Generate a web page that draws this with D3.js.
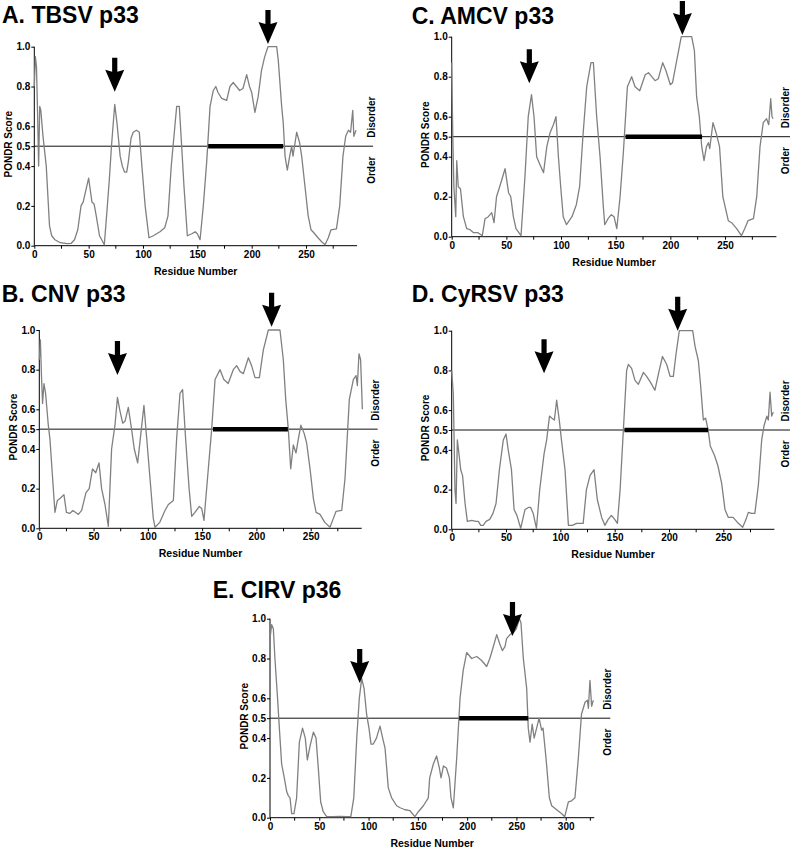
<!DOCTYPE html>
<html>
<head>
<meta charset="utf-8">
<script src="https://cdn.jsdelivr.net/npm/d3@7"></script>
<style>
  html, body { margin: 0; padding: 0; background: #fff; }
  svg { display: block; }
  text { font-family: "Liberation Sans", Arial, Helvetica, sans-serif; font-weight: bold; fill: #000; }
</style>
</head>
<body>
<svg id="chart" width="792" height="848"></svg>
<script>
// ---------------- DATA (residue, PONDR score) ----------------
const tbsv = [[0,0.8],[1,0.95],[2,0.9],[3,0.67],[4,0.4],[5,0.7],[6,0.68],[8,0.55],[11,0.4],[14,0.1],[16,0.05],[19,0.03],[24,0.015],[30,0.01],[34,0.012],[37,0.03],[40,0.08],[43,0.2],[45,0.22],[47.5,0.28],[50,0.34],[51,0.3],[53,0.22],[55,0.21],[57,0.15],[60,0.05],[62,0.03],[64.4,0.005],[66.5,0.15],[69,0.33],[71,0.5],[74,0.71],[76,0.62],[79,0.45],[81,0.4],[83,0.37],[85,0.37],[86.5,0.42],[89,0.54],[91,0.57],[94,0.58],[96.6,0.57],[99,0.4],[102,0.2],[105.5,0.04],[109.5,0.05],[115.6,0.07],[120,0.09],[123,0.15],[126,0.4],[128.5,0.55],[131,0.7],[133.4,0.7],[135.6,0.5],[137.7,0.3],[140.8,0.05],[145,0.06],[148,0.07],[150,0.06],[152.5,0.03],[155.5,0.2],[158.6,0.42],[161.7,0.7],[164.7,0.78],[167,0.8],[169,0.77],[172.4,0.74],[177,0.73],[180,0.8],[183,0.82],[186,0.8],[189,0.78],[192,0.79],[195.4,0.86],[198,0.8],[200,0.77],[203,0.67],[206,0.75],[209,0.88],[212,0.95],[215,1.0],[223,1.0],[224.5,0.93],[227.6,0.7],[229,0.62],[230.7,0.45],[232.8,0.38],[235,0.45],[236.8,0.5],[238,0.45],[240,0.52],[241.4,0.57],[244,0.52],[246,0.45],[249,0.3],[252,0.15],[254.6,0.08],[258,0.06],[261,0.04],[264.4,0.02],[267.5,0.005],[270.5,0.04],[273,0.08],[278,0.085],[281,0.2],[284,0.45],[286.5,0.55],[289,0.58],[291,0.57],[293,0.68],[294,0.55],[296,0.58]];

const cnv = [[0,0.85],[1,0.95],[2,0.77],[3,0.63],[4.3,0.73],[5.8,0.68],[8.3,0.52],[9.8,0.45],[12.3,0.25],[14.4,0.08],[16.6,0.14],[19,0.15],[22.7,0.17],[25,0.08],[28,0.075],[31,0.09],[36,0.07],[39,0.09],[43,0.18],[46,0.2],[49,0.3],[52,0.28],[55,0.33],[57.4,0.2],[60.5,0.12],[63.6,0.01],[66.6,0.4],[69.7,0.52],[72,0.66],[74,0.6],[76.8,0.53],[79,0.54],[82,0.61],[85,0.5],[87.5,0.4],[90.6,0.33],[93,0.45],[96.4,0.62],[99,0.45],[102,0.25],[105,0.05],[106.6,0.005],[111,0.03],[115.8,0.09],[118.9,0.12],[123.5,0.14],[126.5,0.45],[129.6,0.68],[132,0.7],[134.8,0.45],[138,0.2],[140.4,0.06],[143.4,0.08],[147.4,0.11],[149.6,0.1],[151.7,0.04],[155.7,0.3],[158.8,0.5],[161.9,0.75],[166.5,0.8],[170,0.75],[174,0.73],[178.7,0.8],[181.8,0.82],[185,0.79],[188,0.78],[192.6,0.86],[195.6,0.82],[198.7,0.76],[202.7,0.76],[206.4,0.9],[211,1.0],[221.7,1.0],[224.8,0.85],[227,0.65],[229.4,0.5],[231.6,0.3],[234,0.42],[236.5,0.38],[238.6,0.45],[241,0.52],[243.9,0.48],[246.3,0.43],[249.4,0.3],[252.5,0.15],[255,0.08],[258.6,0.07],[263,0.03],[267.8,0.005],[270.9,0.05],[273.3,0.085],[278.6,0.09],[281.6,0.25],[285.6,0.65],[289.3,0.75],[291.8,0.77],[293,0.72],[294.5,0.88],[296,0.85],[297.6,0.6]];

const amcv = [[0,0.87],[1,0.5],[2,0.25],[3.7,0.1],[4.6,0.38],[6,0.25],[8,0.24],[10.7,0.1],[13.7,0.04],[16.8,0.035],[20,0.02],[24,0.02],[28,0.005],[30.5,0.09],[33.5,0.1],[36.6,0.12],[38.7,0.07],[41,0.2],[45,0.27],[48.8,0.34],[52,0.22],[54,0.2],[56.4,0.1],[58.8,0.04],[63.4,0.005],[67,0.3],[70,0.6],[73,0.71],[75.3,0.6],[77.7,0.4],[80,0.37],[84,0.32],[87,0.45],[90,0.52],[93,0.56],[95.4,0.6],[97.6,0.4],[99.7,0.25],[102,0.1],[105,0.06],[110,0.1],[114,0.16],[117,0.25],[120,0.5],[123.5,0.75],[127.4,0.87],[129.6,0.87],[132.6,0.6],[135.7,0.4],[138.7,0.15],[140,0.06],[143,0.09],[146,0.11],[148.5,0.1],[151,0.04],[154,0.2],[157,0.42],[160.7,0.75],[164.6,0.8],[167.7,0.75],[172,0.73],[177,0.81],[180,0.82],[183,0.8],[186,0.78],[189,0.79],[193,0.87],[196,0.83],[200,0.76],[202,0.77],[205.8,0.88],[210,1.0],[219.5,1.0],[222,0.93],[224,0.7],[226.5,0.6],[228.7,0.45],[230.8,0.38],[233,0.45],[234.8,0.47],[236,0.44],[239,0.57],[241.8,0.52],[245,0.45],[248,0.2],[253,0.08],[256,0.07],[260.7,0.04],[265,0.005],[268,0.04],[271,0.08],[276,0.09],[279,0.2],[282,0.45],[285,0.57],[288,0.59],[290,0.56],[291.8,0.69],[293,0.6],[294,0.59]];

const cyrsv = [[0,0.8],[1.5,0.68],[3,0.2],[4,0.13],[5.2,0.45],[6.7,0.38],[8.3,0.3],[10,0.27],[12.3,0.13],[14.4,0.04],[18.4,0.045],[22.4,0.04],[24.5,0.04],[26.7,0.02],[29,0.02],[31.6,0.04],[35,0.05],[38,0.08],[40.8,0.13],[43.9,0.3],[47.5,0.45],[50,0.48],[52,0.4],[55,0.3],[57.4,0.1],[60,0.07],[63.5,0.005],[67.5,0.1],[70.6,0.11],[72.7,0.11],[75,0.08],[78,0.005],[81,0.2],[85,0.38],[87.4,0.45],[90,0.57],[92,0.56],[94.5,0.55],[96.6,0.65],[99,0.55],[101,0.45],[104.3,0.3],[107.4,0.02],[111,0.02],[115,0.03],[121,0.03],[124,0.2],[127.3,0.27],[131,0.3],[134,0.15],[138,0.06],[141,0.02],[144,0.05],[147,0.07],[150,0.05],[152.5,0.03],[155,0.2],[158,0.5],[161,0.8],[162.6,0.83],[165.6,0.81],[168.7,0.75],[171.8,0.73],[176.4,0.79],[179.4,0.77],[183,0.74],[187,0.7],[191,0.8],[194,0.87],[197.9,0.83],[201,0.77],[204,0.77],[206.4,0.88],[209.5,1.0],[221.8,1.0],[224,0.92],[227,0.85],[229,0.73],[231.6,0.55],[233.7,0.56],[236,0.5],[238,0.42],[242,0.37],[245,0.32],[248.5,0.23],[251.5,0.1],[254.6,0.06],[259,0.06],[263.8,0.03],[267.8,0.01],[270.9,0.05],[273,0.085],[276,0.08],[279,0.08],[282.2,0.22],[285.3,0.45],[287.4,0.52],[290,0.57],[291.4,0.55],[293,0.69],[294.5,0.57],[296,0.59]];

const cirv = [[0,0.9],[1.7,0.97],[3.4,0.95],[5,0.8],[7.4,0.62],[9.5,0.45],[11.8,0.27],[14.5,0.2],[17,0.13],[18.6,0.11],[20.3,0.1],[22,0.02],[24.3,0.02],[27,0.1],[29.8,0.38],[33,0.45],[35.8,0.4],[37.9,0.29],[40.6,0.36],[44,0.43],[46.7,0.4],[49,0.25],[51.4,0.08],[54,0.03],[57.5,0.005],[64,0.005],[71,0.007],[77.8,0.005],[82,0.005],[85,0.1],[88,0.4],[90.6,0.6],[93,0.7],[95.4,0.65],[98,0.52],[100.4,0.45],[102.5,0.37],[104.8,0.37],[108,0.4],[111.6,0.46],[114.3,0.4],[116.7,0.35],[120,0.15],[123.4,0.1],[128.5,0.06],[132,0.05],[137,0.04],[142,0.035],[147,0.005],[150.5,0.03],[155.6,0.06],[160.6,0.1],[162,0.2],[165.7,0.27],[169,0.31],[171.8,0.25],[173.5,0.2],[176,0.26],[179,0.25],[182,0.2],[183.6,0.1],[186,0.05],[189.4,0.3],[192.8,0.6],[196,0.74],[199.5,0.83],[204.6,0.8],[209.7,0.81],[214.7,0.79],[219.8,0.76],[223,0.8],[226.6,0.86],[230,0.92],[233.3,0.87],[235.7,0.84],[238.4,0.86],[240,0.9],[243.5,0.92],[246.9,0.93],[250,0.95],[253,1.0],[254.6,0.98],[257,0.8],[260.4,0.65],[262,0.45],[263.8,0.38],[266,0.47],[268,0.4],[270.5,0.45],[273,0.5],[275.6,0.44],[277,0.45],[280,0.3],[283.4,0.1],[285.8,0.06],[290.8,0.04],[296,0.02],[299,0.005],[302.7,0.08],[306,0.085],[309.4,0.1],[312.8,0.3],[316,0.52],[319.6,0.58],[322,0.59],[323,0.55],[324.6,0.69],[326.3,0.56],[328,0.59]];

// Disordered region bars at 0.5 (start residue, end residue)
const tbsvBar = [160, 229];
const cnvBar = [160, 229];
const amcvBar = [159, 229];
const cyrsvBar = [159, 236];
const cirvBar = [192, 262];

// Arrow annotations (residue, score at arrow tip)
const tbsvArrows = [[74, 0.774], [215, 1.013]];
const cnvArrows = [[72, 0.773], [214, 1.017]];
const amcvArrows = [[71, 0.767], [211, 1.008]];
const cyrsvArrows = [[85, 0.786], [208, 1.0]];
const cirvArrows = [[91, 0.677], [246, 0.913]];

const titles = ["A. TBSV p33", "B. CNV p33", "C. AMCV p33", "D. CyRSV p33", "E. CIRV p36"];
const yTickValues = [0.0, 0.2, 0.4, 0.5, 0.6, 0.8, 1.0];
const xTicks297 = [0, 50, 100, 150, 200, 250];
const xTicks329 = [0, 50, 100, 150, 200, 250, 300];

// ---------------- LAYOUT ----------------
const panels = [
  { title: titles[0], data: tbsv, bar: tbsvBar, arrows: tbsvArrows, xMax: 297, xTicks: xTicks297,
    left: 34.3, right: 357.1, top: 46.7, bottom: 245.7, tx: 2, ty: 23.3, labX: 371 },
  { title: titles[1], data: cnv, bar: cnvBar, arrows: cnvArrows, xMax: 297, xTicks: xTicks297,
    left: 39.3, right: 361.7, top: 330, bottom: 528.3, tx: 1.7, ty: 301.7, labX: 375 },
  { title: titles[2], data: amcv, bar: amcvBar, arrows: amcvArrows, xMax: 297, xTicks: xTicks297,
    left: 451.7, right: 776.4, top: 36.7, bottom: 236.7, tx: 411.7, ty: 24, labX: 785.5 },
  { title: titles[3], data: cyrsv, bar: cyrsvBar, arrows: cyrsvArrows, xMax: 297, xTicks: xTicks297,
    left: 451.7, right: 774.4, top: 330.7, bottom: 529.3, tx: 411.7, ty: 301.7, labX: 785.5 },
  { title: titles[4], data: cirv, bar: cirvBar, arrows: cirvArrows, xMax: 329, xTicks: xTicks329,
    left: 270, right: 594.3, top: 618.7, bottom: 817.7, tx: 212.7, ty: 598.3, labX: 607.5 }
];

const svg = d3.select("#chart");

panels.forEach(p => {
  const x = d3.scaleLinear().domain([0, p.xMax]).range([p.left, p.right]);
  const y = d3.scaleLinear().domain([0, 1]).range([p.bottom, p.top]);
  const g = svg.append("g");

  // title
  g.append("text").attr("x", p.tx).attr("y", p.ty)
    .style("font-size", "23px").text(p.title);

  // x axis
  const xAxis = d3.axisBottom(x).tickValues(p.xTicks).tickFormat(d3.format("d"))
    .tickSize(3).tickPadding(2);
  const xg = g.append("g").attr("transform", `translate(0,${p.bottom})`).call(xAxis);
  xg.select(".domain").attr("d", `M${p.left},0H${p.right}`).attr("stroke", "#000").attr("stroke-width", 1);
  xg.selectAll("text").style("font-size", "10px").style("font-family", "Liberation Sans, Arial, sans-serif").style("font-weight", "bold");
  // minor ticks
  const minor = d3.range(25, p.xMax, 50);
  g.append("g").selectAll("line").data(minor).join("line")
    .attr("x1", d => x(d)).attr("x2", d => x(d))
    .attr("y1", p.bottom).attr("y2", p.bottom + 3)
    .attr("stroke", "#000").attr("stroke-width", 1);

  // y axis
  const yAxis = d3.axisLeft(y).tickValues(yTickValues).tickFormat(d3.format(".1f"))
    .tickSize(3).tickPadding(1);
  const yg = g.append("g").attr("transform", `translate(${p.left},0)`).call(yAxis);
  yg.select(".domain").attr("d", `M0,${p.top}V${p.bottom}`).attr("stroke", "#000").attr("stroke-width", 1);
  yg.selectAll("text").style("font-size", "10px").style("font-family", "Liberation Sans, Arial, sans-serif").style("font-weight", "bold");

  // axis labels
  g.append("text").attr("x", x(p.xMax / 2)).attr("y", p.bottom + 29)
    .attr("text-anchor", "middle").style("font-size", "10.5px").text("Residue Number");
  g.append("text")
    .attr("transform", `translate(${p.left - 26},${(p.top + p.bottom) / 2 - 2}) rotate(-90)`)
    .attr("text-anchor", "middle").attr("dy", "0.35em")
    .style("font-size", "10px").text("PONDR Score");

  // 0.5 threshold line
  g.append("line").attr("x1", p.left).attr("x2", Math.min(p.right + 16, 790))
    .attr("y1", y(0.5)).attr("y2", y(0.5))
    .attr("stroke", "#111").attr("stroke-width", 1);

  // Disorder / Order labels
  g.append("text")
    .attr("transform", `translate(${p.labX},${y(0.5) - 29}) rotate(-90)`)
    .attr("text-anchor", "middle").attr("dy", "0.35em")
    .style("font-size", "10px").text("Disorder");
  g.append("text")
    .attr("transform", `translate(${p.labX},${y(0.5) + 24}) rotate(-90)`)
    .attr("text-anchor", "middle").attr("dy", "0.35em")
    .style("font-size", "10px").text("Order");

  // PONDR curve
  const line = d3.line().x(d => x(d[0])).y(d => y(d[1]));
  g.append("path").datum(p.data).attr("d", line)
    .attr("fill", "none").attr("stroke", "#808080").attr("stroke-width", 1.3)
    .attr("stroke-linejoin", "round");

  // thick disordered bar
  g.append("line").attr("x1", x(p.bar[0])).attr("x2", x(p.bar[1]))
    .attr("y1", y(0.5)).attr("y2", y(0.5))
    .attr("stroke", "#000").attr("stroke-width", 4.5);

  // arrows
  g.append("g").selectAll("path").data(p.arrows).join("path")
    .attr("d", d => {
      const tx = x(d[0]), ty = y(d[1]);
      return `M${tx - 2.6},${ty - 34} L${tx + 2.6},${ty - 34} L${tx + 2.6},${ty - 20} ` +
             `L${tx + 9.5},${ty - 22} L${tx},${ty} L${tx - 9.5},${ty - 22} L${tx - 2.6},${ty - 20} Z`;
    })
    .attr("fill", "#000");
});
</script>
</body>
</html>
